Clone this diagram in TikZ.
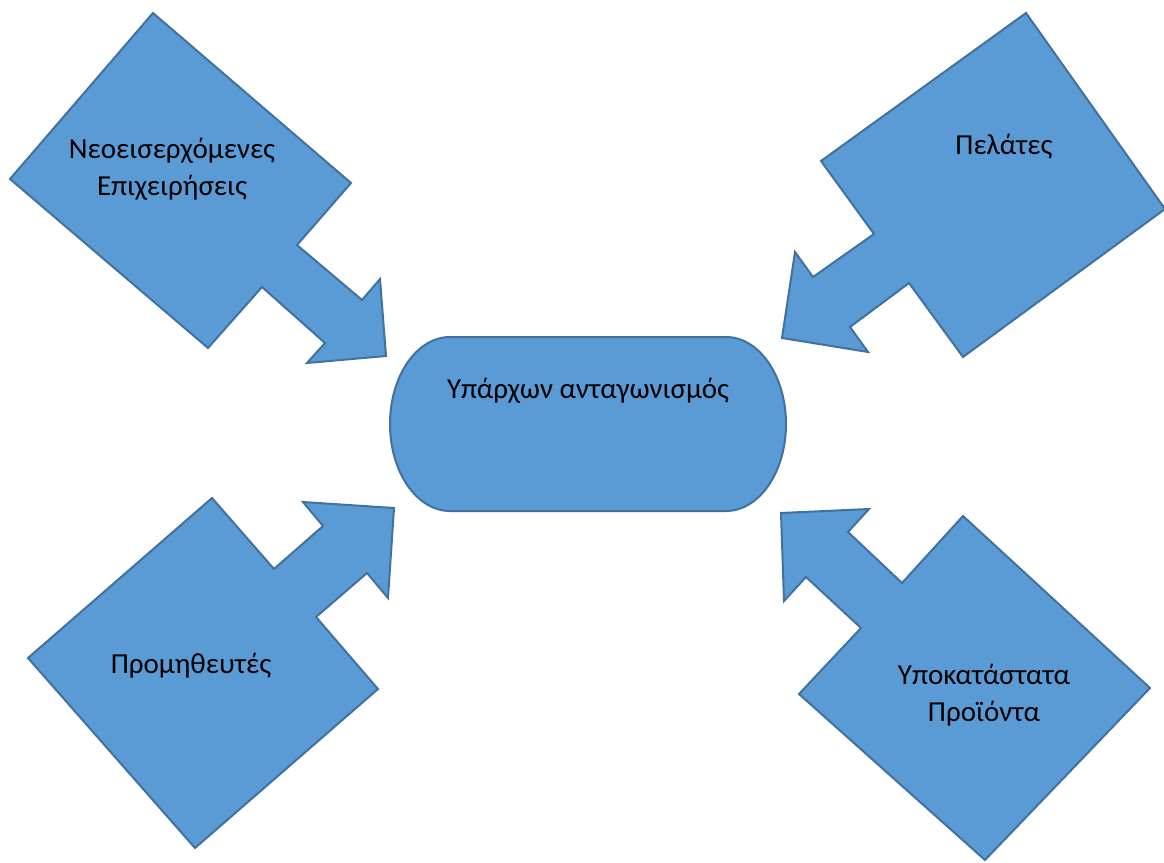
\documentclass[tikz,border=0pt]{standalone}
\usepackage{fontspec}
\setmainfont{Carlito}
\definecolor{forcefill}{HTML}{5B9BD5}
\definecolor{forceline}{HTML}{41719C}

\begin{document}
\begin{tikzpicture}[x=1pt,y=-1pt]
    \tikzstyle{force} = [draw=forceline, fill=forcefill, line width=2pt, line join=miter]
    \tikzstyle{every node} = [font=\fontsize{29}{37}\selectfont, align=center, anchor=base, inner sep=0pt]
    \useasboundingbox (0,0) rectangle (1164,862);

    % the four forces, each a square with an arrow
    \filldraw[force] (153,13) -- (351,183) -- (297,245) -- (362,300) -- (380,279) -- (386,356)
        -- (307,363) -- (325,343) -- (262,287) -- (208,348) -- (10,179) -- cycle;
    \filldraw[force] (1026,13) -- (1165,209) -- (963,357) -- (909,283) -- (850,327) -- (868,352)
        -- (782,338) -- (795,252) -- (813,277) -- (874,234) -- (821,161) -- cycle;
    \filldraw[force] (212,498) -- (274,569) -- (323,526) -- (303,502) -- (394,508) -- (388,598)
        -- (367,573) -- (316,617) -- (378,689) -- (195,848) -- (28,658) -- cycle;
    \filldraw[force] (963,516) -- (1150,688) -- (985,860) -- (799,694) -- (861,628) -- (806,577)
        -- (784,601) -- (781,513) -- (869,509) -- (848,532) -- (902,583) -- cycle;

    % rivalry in the middle
    \filldraw[force] (450,337) -- (726,337) arc[start angle=-90, end angle=90, x radius=60, y radius=87]
        -- (450,511) arc[start angle=90, end angle=270, x radius=60, y radius=87] -- cycle;

    % two-line labels sit on the baseline of their last line
    \node (entrants) at (172,195) {Νεοεισερχόμενες\\Επιχειρήσεις};
    \node (customers) at (1004,154) {Πελάτες};
    \node (suppliers) at (191,673) {Προμηθευτές};
    \node (substitutes) at (984,721) {Υποκατάστατα\\Προϊόντα};
    \node (rivalry) at (588,398) {Υπάρχων ανταγωνισμός};
\end{tikzpicture}
\end{document}
